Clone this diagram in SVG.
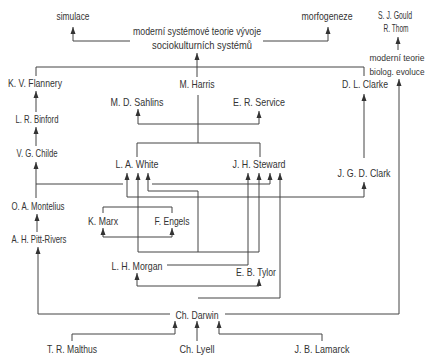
<svg xmlns="http://www.w3.org/2000/svg" width="429" height="356" viewBox="0 0 429 356">
<style>
text{font-family:"Liberation Sans",Arial,sans-serif;font-size:10.5px;fill:#333;text-anchor:middle}
.s{font-size:9.5px}
.c path,.c line,.c polyline{fill:none;stroke:#444;stroke-width:1}
</style>
<defs>
<marker id="m" markerUnits="userSpaceOnUse" markerWidth="8" markerHeight="8" viewBox="-8 -4 8 8" refX="0" refY="0" orient="auto-start-reverse">
<path d="M0,0 L-7,-2.5 L-7,2.5 Z" fill="#333"/>
</marker>
</defs>
<rect width="429" height="356" fill="#fff"/>
<g class="c" id="connectors">
<polyline points="130,41 73,41 73,27" marker-end="url(#m)"/>
<polyline points="263,41 328,41 328,27" marker-end="url(#m)"/>
<line x1="398" y1="50" x2="398" y2="37" marker-end="url(#m)"/>
<line x1="36" y1="67" x2="364" y2="67"/>
<line x1="36" y1="67" x2="36" y2="76"/>
<line x1="364" y1="67" x2="364" y2="76"/>
<line x1="197" y1="77" x2="197" y2="53" marker-end="url(#m)"/>
<line x1="36" y1="112" x2="36" y2="91" marker-end="url(#m)"/>
<line x1="36" y1="146" x2="36" y2="127" marker-end="url(#m)"/>
<line x1="36" y1="198" x2="36" y2="162" marker-end="url(#m)"/>
<line x1="37" y1="232" x2="37" y2="214" marker-end="url(#m)"/>
<line x1="198" y1="95" x2="198" y2="143"/>
<polyline points="137,157 137,143 260,143 260,157"/>
<line x1="138" y1="124" x2="259" y2="124"/>
<line x1="138" y1="124" x2="138" y2="109" marker-end="url(#m)"/>
<line x1="259" y1="124" x2="259" y2="111" marker-end="url(#m)"/>
<line x1="364" y1="158" x2="364" y2="94" marker-end="url(#m)"/>
<line x1="36" y1="184" x2="123" y2="184"/>
<polyline points="152,184 270,184 270,173" marker-end="url(#m)"/>
<polyline points="127,173 127,197 364,197 364,182" marker-start="url(#m)" marker-end="url(#m)"/>
<line x1="138" y1="252" x2="259" y2="252"/>
<line x1="138" y1="252" x2="138" y2="173" marker-end="url(#m)"/>
<line x1="259" y1="252" x2="259" y2="173" marker-end="url(#m)"/>
<polyline points="198,252 198,191 148,191 148,173" marker-end="url(#m)"/>
<polyline points="167,265 248,265 248,173" marker-end="url(#m)"/>
<polyline points="103,213 103,207 172,207 172,213"/>
<polyline points="103,228 103,237 172,237 172,228" marker-start="url(#m)" marker-end="url(#m)"/>
<polyline points="137,273 137,286 259,286 259,279" marker-start="url(#m)" marker-end="url(#m)"/>
<polyline points="198,298 280,298 280,173" marker-end="url(#m)"/>
<polyline points="170,314 38,314 38,247" marker-end="url(#m)"/>
<polyline points="225,314 399,314 399,79" marker-end="url(#m)"/>
<polyline points="72,341 72,334 175,334 175,321" marker-end="url(#m)"/>
<line x1="197" y1="341" x2="197" y2="321" marker-end="url(#m)"/>
<polyline points="322,341 322,334 219,334 219,321" marker-end="url(#m)"/>
</g>
<g id="n-simulace"><text x="73" y="20" textLength="33" lengthAdjust="spacingAndGlyphs">simulace</text></g>
<g id="n-moderni"><text x="197" y="35" textLength="128" lengthAdjust="spacingAndGlyphs">moderní systémové teorie vývoje</text><text x="202" y="49" textLength="100" lengthAdjust="spacingAndGlyphs">sociokulturních systémů</text></g>
<g id="n-morfogeneze"><text x="327" y="20" textLength="51" lengthAdjust="spacingAndGlyphs">morfogeneze</text></g>
<g id="n-gould"><text x="395" y="19" textLength="34" lengthAdjust="spacingAndGlyphs">S. J. Gould</text><text x="396" y="32" textLength="25" lengthAdjust="spacingAndGlyphs">R. Thom</text></g>
<g id="n-biolog"><text class="s" x="397" y="61" textLength="55" lengthAdjust="spacingAndGlyphs">moderní teorie</text><text class="s" x="397" y="75" textLength="55" lengthAdjust="spacingAndGlyphs">biolog. evoluce</text></g>
<g id="n-flannery"><text x="35" y="87" textLength="54" lengthAdjust="spacingAndGlyphs">K. V. Flannery</text></g>
<g id="n-harris"><text x="197" y="88" textLength="35" lengthAdjust="spacingAndGlyphs">M. Harris</text></g>
<g id="n-dlclarke"><text x="365" y="88" textLength="46" lengthAdjust="spacingAndGlyphs">D. L. Clarke</text></g>
<g id="n-sahlins"><text x="137" y="106" textLength="53" lengthAdjust="spacingAndGlyphs">M. D. Sahlins</text></g>
<g id="n-service"><text x="259" y="106" textLength="52" lengthAdjust="spacingAndGlyphs">E. R. Service</text></g>
<g id="n-binford"><text x="37" y="123" textLength="43" lengthAdjust="spacingAndGlyphs">L. R. Binford</text></g>
<g id="n-childe"><text x="37" y="157" textLength="41" lengthAdjust="spacingAndGlyphs">V. G. Childe</text></g>
<g id="n-white"><text x="137" y="168" textLength="43" lengthAdjust="spacingAndGlyphs">L. A. White</text></g>
<g id="n-steward"><text x="259" y="168" textLength="53" lengthAdjust="spacingAndGlyphs">J. H. Steward</text></g>
<g id="n-jgdclark"><text x="364" y="177" textLength="53" lengthAdjust="spacingAndGlyphs">J. G. D. Clark</text></g>
<g id="n-montelius"><text x="38" y="210" textLength="53" lengthAdjust="spacingAndGlyphs">O. A. Montelius</text></g>
<g id="n-marx"><text x="103" y="225" textLength="30" lengthAdjust="spacingAndGlyphs">K. Marx</text></g>
<g id="n-engels"><text x="172" y="225" textLength="35" lengthAdjust="spacingAndGlyphs">F. Engels</text></g>
<g id="n-pittrivers"><text x="39" y="243" textLength="55" lengthAdjust="spacingAndGlyphs">A. H. Pitt-Rivers</text></g>
<g id="n-morgan"><text x="137" y="270" textLength="51" lengthAdjust="spacingAndGlyphs">L. H. Morgan</text></g>
<g id="n-tylor"><text x="256" y="276" textLength="40" lengthAdjust="spacingAndGlyphs">E. B. Tylor</text></g>
<g id="n-darwin"><text x="197" y="319" textLength="43" lengthAdjust="spacingAndGlyphs">Ch. Darwin</text></g>
<g id="n-malthus"><text x="72" y="353" textLength="50" lengthAdjust="spacingAndGlyphs">T. R. Malthus</text></g>
<g id="n-lyell"><text x="197" y="353" textLength="35" lengthAdjust="spacingAndGlyphs">Ch. Lyell</text></g>
<g id="n-lamarck"><text x="322" y="353" textLength="55" lengthAdjust="spacingAndGlyphs">J. B. Lamarck</text></g>
</svg>
